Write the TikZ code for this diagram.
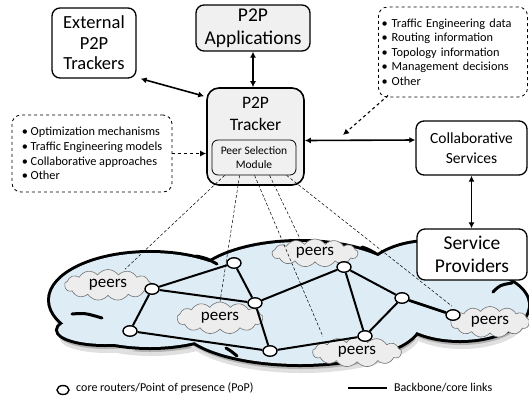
\documentclass[tikz,border=0pt]{standalone}
\usepackage{fontspec}
\setmainfont{Carlito}
\usetikzlibrary{shapes.symbols,shapes.geometric,arrows.meta}

\definecolor{cloudblue}{RGB}{221,236,245}

\tikzset{
	bigbox/.style={draw, line width=1.3pt, rounded corners=8pt, fill=white, align=center,
		inner sep=0pt, font=\fontsize{18.5}{20.5}\selectfont},
	greybox/.style={bigbox, fill=black!6},
	notebox/.style={draw, dashed, line width=0.8pt, rounded corners=9pt, align=left,
		inner sep=0pt, font=\fontsize{12.3}{14.6}\selectfont},
	peers/.style={cloud, cloud puffs=13, cloud puff arc=110, cloud ignores aspect, draw=black!55,
		line width=0.6pt, fill=black!7, inner sep=0pt, font=\fontsize{17}{18}\selectfont},
	router/.style={ellipse, draw, line width=1.4pt, fill=white, inner sep=0pt,
		minimum width=14pt, minimum height=10.5pt},
	link/.style={line width=2pt},
	cloudline/.style={line width=3pt, line cap=round},
	biarrow/.style={{Latex[length=6pt,width=6pt]}-{Latex[length=6pt,width=6pt]}, line width=1.6pt},
	notearrow/.style={-{Latex[length=6pt,width=6pt]}, dashed, line width=1.1pt},
	peerline/.style={densely dashed, line width=0.5pt}
}

\begin{document}
\begin{tikzpicture}[x=1pt,y=1pt]
	\path[use as bounding box, fill=white] (0,0) rectangle (529,-397);

	% the core network cloud
	\foreach \cx/\cy/\rx/\ry in {150/300/100/47, 105/330/47/14, 300/290/110/48, 300/322/120/42,
		430/285/70/43, 460/305/68/35}
	{
		\fill[black!12] (\cx+2,-\cy-9) ellipse [x radius=\rx pt, y radius=\ry pt];
		\fill[black!30] (\cx+1,-\cy-5) ellipse [x radius=\rx pt, y radius=\ry pt];
	}
	\foreach \cx/\cy/\rx/\ry in {150/300/100/47, 105/330/47/14, 300/290/110/48, 300/322/120/42,
		430/285/70/43, 460/305/68/35}
		\draw[line width=6pt] (\cx,-\cy) ellipse [x radius=\rx pt, y radius=\ry pt];
	\foreach \cx/\cy/\rx/\ry in {150/300/100/47, 105/330/47/14, 300/290/110/48, 300/322/120/42,
		430/285/70/43, 460/305/68/35}
		\fill[cloudblue] (\cx,-\cy) ellipse [x radius=\rx pt, y radius=\ry pt];
	\draw[cloudline] (196,-256) .. controls (206,-258) .. (217,-264);
	\draw[cloudline] (72,-314) .. controls (85,-313) .. (102,-318);
	\draw[cloudline] (362,-247) .. controls (368,-249) .. (375,-253);
	\draw[cloudline] (493,-292) .. controls (500,-285) .. (512,-283);
	\draw[cloudline] (226,-348) .. controls (231,-351) .. (237,-356);

	% peers
	\node[peers, minimum width=87pt, minimum height=31pt] (p1) at (108,-285) {peers};
	\node[peers, minimum width=86pt, minimum height=32pt] (p2) at (220,-318) {peers};
	\node[peers, minimum width=86pt, minimum height=28pt] (p3) at (315,-253) {peers};
	\node[peers, minimum width=89pt, minimum height=30pt] (p4) at (357,-352) {peers};
	\node[peers, minimum width=79pt, minimum height=31pt] (p5) at (490,-322) {peers};

	% core routers and backbone links
	\foreach \n/\x/\y in {r1/152/289, r2/234/263, r3/255/303, r4/130/331, r5/270/351,
		r6/344/267, r7/365/336, r8/402/298, r9/453/315}
		\node[router] (\n) at (\x,-\y) {};
	\foreach \a/\b in {r1/r2, r1/r3, r1/r4, r2/r3, r4/r5, r3/r5, r3/r6, r6/r7, r5/r7, r6/r8, r7/r8}
		\draw[link] (\a) -- (\b);
	\draw[line width=2.8pt] (r8) -- (r9);

	% boxes
	\node[bigbox, minimum width=84pt, minimum height=70pt] (ext) at (94,-43) {External\\P2P\\Trackers};
	\node[greybox, minimum width=114pt, minimum height=46pt, font=\fontsize{19.5}{23}\selectfont]
		(app) at (253,-28) {P2P\\Applications};
	\node[greybox, line width=1.6pt, rounded corners=12pt, minimum width=97pt, minimum height=97pt]
		(tracker) at (255.5,-136.5) {};
	\node[align=center, anchor=north, inner sep=0pt, font=\fontsize{17.5}{22}\selectfont]
		(trackertext) at ([yshift=-10pt]tracker.north) {P2P\\Tracker};
	\node[draw, line width=0.8pt, rounded corners=6pt, fill=black!6, align=center, inner sep=0pt,
		minimum width=84pt, minimum height=35pt, font=\fontsize{11.5}{14}\selectfont]
		(module) at (254,-157.5) {Peer Selection\\Module};
	\node[bigbox, minimum width=111pt, minimum height=54pt, font=\fontsize{15.5}{20}\selectfont]
		(coll) at (471.5,-148) {Collaborative\\Services};
	\node[bigbox, minimum width=110pt, minimum height=51pt, font=\fontsize{19.5}{23}\selectfont]
		(sp) at (472,-254.5) {Service\\Providers};

	\node[notebox, minimum width=160pt, minimum height=77pt] (lnote) at (92,-153.5)
		{\textbullet\ Optimization mechanisms\\\textbullet\ Traffic Engineering models\\
		 \textbullet\ Collaborative approaches\\\textbullet\ Other};
	\node[notebox, minimum width=149pt, minimum height=90pt, text width=143pt] (rnote) at (453,-52)
		{\textbullet\ Traffic Engineering data\\\textbullet\ Routing information\\
		 \textbullet\ Topology information\\\textbullet\ Management decisions\\\textbullet\ Other};

	% arrows
	\draw[biarrow] ([shift={(4pt,0pt)}]ext.south east) -- ([shift={(-2pt,-9pt)}]tracker.north west);
	\draw[biarrow] (app.south) -- (app.south |- tracker.north);
	\draw[biarrow] ([yshift=-4pt]tracker.east) -- ([yshift=8pt]coll.west);
	\draw[biarrow] (coll.south) -- (coll.south |- sp.north);
	\draw[notearrow] (lnote.east) -- (tracker.west |- lnote.east);
	\coordinate (tcmid) at (343,-135);
	\draw[notearrow] ([shift={(10pt,2pt)}]rnote.south west) -- (tcmid);

	% peer selection towards the peers
	\draw[peerline] ([xshift=13pt]module.south west) -- ([xshift=17pt]p1.north);
	\draw[peerline] ([xshift=28pt]module.south west) -- (p2.north);
	\draw[peerline] ([xshift=43pt]module.south west) -- ([xshift=-34pt]p4.north);
	\draw[peerline] ([xshift=58pt]module.south west) -- ([xshift=-15pt]p3.north);
	\draw[peerline] ([xshift=75pt]module.south west) -- ([xshift=-38pt]p5.north);

	% legend
	\node[router, minimum width=12pt, minimum height=9pt] (lgrouter) at (63,-390) {};
	\node[anchor=west, inner sep=0pt, font=\fontsize{12}{13}\selectfont] (lgroutertext) at (76,-388)
		{core routers/Point of presence (PoP)};
	\coordinate (lglink1) at (348,-388);
	\coordinate (lglink2) at (387,-388);
	\draw[link] (lglink1) -- (lglink2);
	\node[anchor=west, inner sep=0pt, font=\fontsize{12}{13}\selectfont] (lglinktext) at (394,-388)
		{Backbone/core links};
\end{tikzpicture}
\end{document}
